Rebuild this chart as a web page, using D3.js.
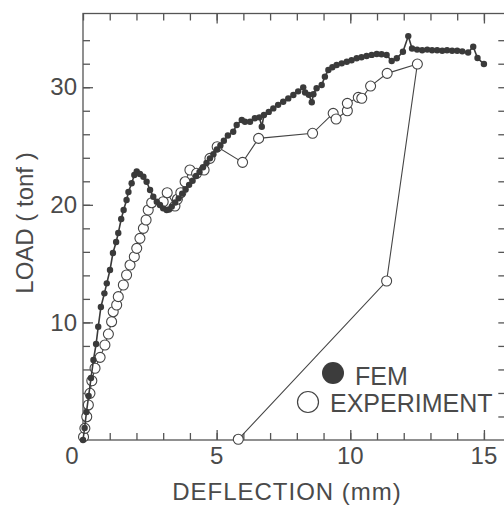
<!DOCTYPE html>
<html>
<head>
<meta charset="utf-8">
<script src="https://cdn.jsdelivr.net/npm/d3@7/dist/d3.min.js"></script>
<style>
  html, body { margin: 0; padding: 0; background: #fff; }
  svg text { font-family: "Liberation Sans", Arial, sans-serif; fill: #4a4a4a; }
</style>
</head>
<body>
<div id="chart"></div>
<script>
// FEM (filled dots)
var femDeflection = [0, 0.06, 0.13, 0.21, 0.30, 0.39, 0.49, 0.57, 0.67, 0.80, 0.89, 1.01, 1.12, 1.24, 1.32, 1.43, 1.52, 1.63, 1.70, 1.82, 1.92, 2.01,
  2.13, 2.26, 2.38, 2.51, 2.63, 2.76, 2.88, 3.00, 3.13, 3.22, 3.32, 3.45, 3.58, 3.71, 3.84, 3.97, 4.10, 4.23, 4.36, 4.49, 4.62, 4.75, 4.88,
  5.01, 5.14, 5.27, 5.42, 5.62, 5.75, 5.94, 6.06, 6.25, 6.43, 6.60, 6.69, 6.77, 6.95, 7.12, 7.30, 7.49, 7.68, 7.87, 8.05, 8.24, 8.31, 8.45,
  8.56, 8.62, 8.74, 8.93, 9.05, 9.18, 9.33, 9.49, 9.68, 9.87, 10.05, 10.24, 10.42, 10.61, 10.80, 10.99, 11.17, 11.36, 11.55, 11.74, 11.97,
  12.17, 12.31, 12.50, 12.69, 12.88, 13.06, 13.25, 13.44, 13.62, 13.81, 14.00, 14.19, 14.41, 14.60, 14.76, 15.00];
var femLoad = [0, 1.02, 2.38, 3.74, 5.27, 6.80, 8.16, 9.63, 11.31, 12.47, 13.32, 14.46, 15.90, 16.84, 17.60, 18.79, 19.56, 20.41, 21.09, 21.83, 22.53, 22.83,
  22.62, 22.39, 21.96, 21.26, 20.69, 20.26, 19.98, 19.70, 19.56, 19.60, 19.85, 20.20, 20.55, 20.95, 21.30, 21.70, 22.05, 22.45, 22.80, 23.20, 23.55, 23.95, 24.30,
  24.70, 25.05, 25.45, 25.90, 26.22, 26.79, 27.21, 27.07, 27.07, 27.36, 27.44, 26.64, 27.64, 27.90, 28.20, 28.50, 28.77, 29.05, 29.34, 29.65, 29.99, 29.55, 29.35,
  28.72, 29.40, 29.91, 30.19, 30.90, 31.46, 31.70, 31.89, 32.03, 32.17, 32.30, 32.46, 32.55, 32.65, 32.75, 32.82, 32.80, 32.74, 32.23, 32.46, 33.02,
  34.35, 33.29, 33.20, 33.15, 33.20, 33.15, 33.15, 33.10, 33.15, 33.10, 33.10, 33.05, 32.95, 33.44, 32.48, 31.97];

// EXPERIMENT (open circles)
var expDeflection = [0.02, 0.07, 0.14, 0.20, 0.26, 0.33, 0.45, 0.64, 0.82, 0.95, 1.07, 1.13, 1.26, 1.32, 1.51, 1.63, 1.76, 1.92, 2.01, 2.13,
  2.26, 2.36, 2.44, 2.57, 3.00, 3.15, 3.44, 3.53, 3.66, 3.82, 4.00, 4.25, 4.53, 4.75, 5.02, 5.97, 6.57, 8.59, 9.36, 9.47, 9.89, 9.89,
  10.30, 10.43, 10.76, 11.38, 12.51, 11.36, 5.81];
var expLoad = [0.26, 0.99, 1.98, 2.98, 3.97, 5.04, 6.10, 7.03, 8.08, 9.01, 10.06, 10.91, 11.48, 12.19, 13.18, 14.03, 14.88, 15.59, 16.30, 17.15,
  18.00, 18.71, 19.56, 20.18, 20.26, 21.03, 19.90, 20.47, 21.03, 21.96, 22.96, 22.68, 22.96, 23.95, 24.94, 23.61, 25.65, 26.08, 27.78, 27.30, 28.00, 28.63,
  29.14, 29.06, 30.10, 31.18, 31.97, 13.52, 0.06];

var xMinorTicks = d3.range(0, 16);
var xMajorTicks = [5, 10, 15];
var xTickLabels = [0, 5, 10, 15];
var yMinorTicks = d3.range(2, 36, 2);
var yMajorTicks = [10, 20, 30];

var width = 504, height = 505;
var svg = d3.select("#chart").append("svg")
  .attr("width", width)
  .attr("height", height);

var x = d3.scaleLinear().domain([0, 15.8]).range([83, 505.3]);
var y = d3.scaleLinear().domain([0, 36.27]).range([440, 13.5]);

var ink = "#555";

// frame
svg.append("rect")
  .attr("x", x(0)).attr("y", y(36.27))
  .attr("width", x(15.8) - x(0)).attr("height", y(0) - y(36.27))
  .attr("fill", "none").attr("stroke", ink).attr("stroke-width", 1.3);

function tickStyle(g) {
  g.select(".domain").remove();
  g.selectAll(".tick line").attr("stroke", ink).attr("stroke-width", 1.3);
}

// ticks all point inward
svg.append("g").attr("transform", "translate(0," + y(0) + ")")
  .call(d3.axisBottom(x).tickValues(xMinorTicks).tickSize(-7).tickFormat(""))
  .call(tickStyle);
svg.append("g").attr("transform", "translate(0," + y(0) + ")")
  .call(d3.axisBottom(x).tickValues(xMajorTicks).tickSize(-10).tickFormat(""))
  .call(tickStyle);
svg.append("g").attr("transform", "translate(0," + y(36.27) + ")")
  .call(d3.axisTop(x).tickValues(xMinorTicks).tickSize(-7).tickFormat(""))
  .call(tickStyle);
svg.append("g").attr("transform", "translate(0," + y(36.27) + ")")
  .call(d3.axisTop(x).tickValues(xMajorTicks).tickSize(-10).tickFormat(""))
  .call(tickStyle);
svg.append("g").attr("transform", "translate(" + x(0) + ",0)")
  .call(d3.axisLeft(y).tickValues(yMinorTicks).tickSize(-7).tickFormat(""))
  .call(tickStyle);
svg.append("g").attr("transform", "translate(" + x(0) + ",0)")
  .call(d3.axisLeft(y).tickValues(yMajorTicks).tickSize(-10).tickPadding(6).tickFormat(d3.format("d")))
  .call(tickStyle)
  .selectAll("text").style("font-size", "24px").attr("fill", "#4a4a4a");
svg.append("g").attr("transform", "translate(" + x(15.8) + ",0)")
  .call(d3.axisRight(y).tickValues(yMinorTicks).tickSize(-7).tickFormat(""))
  .call(tickStyle);

// x tick labels (origin "0" sits left of the corner)
svg.append("g").selectAll("text").data(xTickLabels).enter().append("text")
  .attr("x", function(d) { return d == 0 ? x(d) - 11 : x(d); })
  .attr("y", y(0) + 24)
  .attr("text-anchor", "middle")
  .style("font-size", "24px")
  .text(function(d) { return d; });

// axis titles
svg.append("text")
  .attr("x", 287).attr("y", 500)
  .attr("text-anchor", "middle")
  .style("font-size", "24px")
  .style("letter-spacing", "1px")
  .text("DEFLECTION (mm)");
svg.append("text")
  .attr("transform", "translate(33,223) rotate(-90)")
  .attr("text-anchor", "middle")
  .style("font-size", "24px")
  .text("LOAD ( tonf )");

var fem = femDeflection.map(function(d, i) { return {x: d, y: femLoad[i]}; });
var exp = expDeflection.map(function(d, i) { return {x: d, y: expLoad[i]}; });

var line = d3.line()
  .x(function(d) { return x(d.x); })
  .y(function(d) { return y(d.y); });

// experiment
svg.append("path").datum(exp)
  .attr("d", line)
  .attr("fill", "none").attr("stroke", "#444").attr("stroke-width", 1.1);
svg.append("g").selectAll("circle").data(exp).enter().append("circle")
  .attr("cx", function(d) { return x(d.x); })
  .attr("cy", function(d) { return y(d.y); })
  .attr("r", 5)
  .attr("fill", "#fff").attr("stroke", "#444").attr("stroke-width", 1.1);

// FEM
svg.append("path").datum(fem)
  .attr("d", line)
  .attr("fill", "none").attr("stroke", "#3a3a3a").attr("stroke-width", 1.6);
svg.append("g").selectAll("circle").data(fem).enter().append("circle")
  .attr("cx", function(d) { return x(d.x); })
  .attr("cy", function(d) { return y(d.y); })
  .attr("r", 3.2)
  .attr("fill", "#3a3a3a");

// legend
svg.append("circle").attr("cx", 333).attr("cy", 373).attr("r", 11).attr("fill", "#3c3c3c");
svg.append("text").attr("x", 355).attr("y", 385).style("font-size", "25px").text("FEM");
svg.append("circle").attr("cx", 308).attr("cy", 402).attr("r", 10.5)
  .attr("fill", "#fff").attr("stroke", "#444").attr("stroke-width", 1.2);
svg.append("text").attr("x", 330).attr("y", 412).style("font-size", "25px").text("EXPERIMENT");
</script>
</body>
</html>
